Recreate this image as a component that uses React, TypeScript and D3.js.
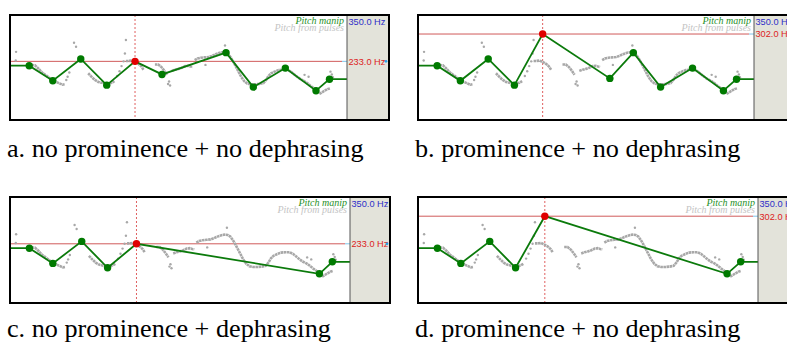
import React from "react";
import * as d3 from "d3";

// ---- data ----
const HZ_TOP = 350;
const HZ_BOTTOM = 85;

// manipulation points (normalized time 0..1, Hz)
const TIMES_A = [0.057, 0.127, 0.21, 0.287, 0.371, 0.451, 0.641, 0.722, 0.817, 0.908, 0.948];
const HZ_A = [222, 184, 239, 173, 233, 200, 255, 168, 216, 159, 188];
const TIMES_B = [0.057, 0.126, 0.209, 0.287, 0.371, 0.571, 0.641, 0.722, 0.817, 0.909, 0.948];
const HZ_B = [222, 184, 239, 173, 302, 190, 255, 168, 216, 159, 188];
const TIMES_C = [0.057, 0.126, 0.211, 0.287, 0.372, 0.91, 0.948];
const HZ_C = [222, 184, 239, 173, 233, 158, 188];
const TIMES_D = [0.057, 0.126, 0.211, 0.287, 0.373, 0.909, 0.949];
const HZ_D = [222, 184, 239, 173, 302, 158, 188];
const FOCUS_INDEX = 4;

const CAPTIONS = [
  "a. no prominence + no dephrasing",
  "b. prominence + no dephrasing",
  "c. no prominence + dephrasing",
  "d. prominence + no dephrasing",
];

// "pitch from pulses" contour pieces [t, Hz]
const PULSE_SEGMENTS: [number, number][][] = [
  [[0.064, 224], [0.074, 223], [0.084, 215], [0.095, 205], [0.108, 197], [0.12, 189], [0.132, 183], [0.145, 178], [0.156, 174], [0.162, 175]],
  [[0.232, 203], [0.242, 194], [0.252, 186], [0.262, 181], [0.272, 179], [0.282, 177], [0.292, 177], [0.302, 179], [0.31, 183]],
  [[0.344, 234], [0.352, 234], [0.362, 235], [0.372, 231], [0.382, 226], [0.39, 220], [0.396, 212]],
  [[0.43, 225], [0.44, 225], [0.45, 218], [0.459, 208], [0.466, 199]],
  [[0.48, 209], [0.49, 212], [0.5, 214], [0.51, 217], [0.52, 221], [0.528, 222], [0.536, 220], [0.542, 219]],
  [[0.548, 236], [0.556, 240], [0.566, 242], [0.578, 243], [0.59, 244], [0.6, 247], [0.61, 251], [0.62, 254], [0.63, 256], [0.64, 255], [0.648, 251], [0.655, 243], [0.662, 233], [0.67, 220], [0.678, 207], [0.686, 194], [0.695, 183], [0.704, 177], [0.715, 175], [0.727, 175], [0.74, 176], [0.752, 178], [0.76, 186], [0.767, 196], [0.775, 203], [0.785, 207], [0.797, 211], [0.81, 212], [0.822, 212], [0.832, 208], [0.842, 201], [0.852, 194], [0.862, 188], [0.872, 184], [0.882, 178], [0.892, 171], [0.902, 165], [0.91, 160]],
  [[0.918, 151], [0.926, 155], [0.934, 159], [0.942, 163], [0.95, 165]],
];
const PULSE_DOTS: [number, number][] = [
  [0.018, 257], [0.017, 235], [0.167, 186], [0.171, 194], [0.176, 205],
  [0.19, 280], [0.196, 270], [0.318, 196], [0.325, 208], [0.331, 221],
  [0.337, 233], [0.341, 253], [0.344, 287], [0.469, 176], [0.472, 182],
  [0.475, 172], [0.58, 224], [0.638, 273], [0.874, 199], [0.886, 194],
  [0.951, 207], [0.955, 200], [0.958, 193],
];

// ---- layout ----
const PANELS = [
  { times: TIMES_A, hz: HZ_A, caption: CAPTIONS[0], x0: 10, y0: 15, xp: 347, x1: 389, y1: 120, capX: 7, capY: 157 },
  { times: TIMES_B, hz: HZ_B, caption: CAPTIONS[1], x0: 418, y0: 15, xp: 754, x1: 800, y1: 120, capX: 415, capY: 157 },
  { times: TIMES_C, hz: HZ_C, caption: CAPTIONS[2], x0: 10, y0: 197, xp: 350, x1: 390, y1: 303, capX: 7, capY: 337 },
  { times: TIMES_D, hz: HZ_D, caption: CAPTIONS[3], x0: 418, y0: 197, xp: 758, x1: 800, y1: 303, capX: 415, capY: 337 },
];

const SERIF = "Liberation Serif";
const SANS = "Liberation Sans";

function Panel({ p }: { p: (typeof PANELS)[number] }) {
  const x = d3.scaleLinear().domain([0, 1]).range([p.x0, p.xp]);
  const y = d3.scaleLinear().domain([HZ_BOTTOM, HZ_TOP]).range([p.y1, p.y0]);
  const pts: [number, number][] = p.times.map((t, i) => [t, p.hz[i]]);
  const full: [number, number][] = [[0, p.hz[0]], ...pts, [1, p.hz[p.hz.length - 1]]];
  const line = d3.line<[number, number]>().x((d) => x(d[0])).y((d) => y(d[1]));
  const refHz = p.hz[FOCUS_INDEX];
  const yRef = y(refHz);
  const xFocus = x(p.times[FOCUS_INDEX]);
  const clipId = `clip-${p.x0}-${p.y0}`;
  return (
    <g>
      <defs>
        <clipPath id={clipId}>
          <rect x={p.x0} y={p.y0} width={p.xp - p.x0} height={p.y1 - p.y0} />
        </clipPath>
      </defs>
      <rect x={p.x0} y={p.y0} width={p.xp - p.x0} height={p.y1 - p.y0} fill="#ffffff" />
      <rect x={p.xp} y={p.y0} width={p.x1 - p.xp} height={p.y1 - p.y0} fill="#e3e3da" />
      <g clipPath={`url(#${clipId})`}>
        <line x1={p.x0} x2={p.xp - 5} y1={yRef} y2={yRef} stroke="#d05a5a" strokeWidth={1} />
        <line x1={p.xp - 5} x2={p.xp} y1={yRef} y2={yRef} stroke="#7fc6ea" strokeWidth={1} />
        <line x1={xFocus} x2={xFocus} y1={p.y0} y2={p.y1} stroke="#e06060" strokeWidth={1} strokeDasharray="2 2" />
        {PULSE_SEGMENTS.map((seg, i) => (
          <path key={i} d={line(seg) || ""} fill="none" stroke="#a8a8a8" strokeWidth={2.6} strokeDasharray="2.6 0.5" />
        ))}
        {PULSE_DOTS.map((d, i) => (
          <circle key={i} cx={x(d[0])} cy={y(d[1])} r={1.2} fill="#a8a8a8" />
        ))}
        <path d={line(full) || ""} fill="none" stroke="#0b7a0b" strokeWidth={1.8} />
        {pts.map((d, i) => (
          <circle key={i} cx={x(d[0])} cy={y(d[1])} r={3.7} fill={i === FOCUS_INDEX ? "#e00000" : "#007a00"} />
        ))}
        <text x={p.xp - 3} y={p.y0 + 9} textAnchor="end" fontFamily={SERIF} fontStyle="italic" fontSize={10} fill="#1f8f1f">
          Pitch manip
        </text>
        <text x={p.xp - 3} y={p.y0 + 15.5} textAnchor="end" fontFamily={SERIF} fontStyle="italic" fontSize={10} fill="#c4c4c4">
          Pitch from pulses
        </text>
      </g>
      <line x1={p.xp} x2={p.xp} y1={p.y0} y2={p.y1} stroke="#555" strokeWidth={1} />
      <text x={p.xp + 1.5} y={p.y0 + 9.5} fontFamily={SANS} fontSize={9.2} fill="#2e2ec8">
        {HZ_TOP.toFixed(1)} Hz
      </text>
      <text x={p.xp + 1.5} y={yRef + 3.3} fontFamily={SANS} fontSize={9.2} fill="#dd2222">
        {refHz.toFixed(1)} Hz
      </text>
      <circle cx={p.x1 - 3} cy={yRef} r={1.4} fill="#2aa3e8" />
      <rect x={p.x0} y={p.y0} width={p.x1 - p.x0} height={p.y1 - p.y0} fill="none" stroke="#000" strokeWidth={2} />
      <text x={p.capX} y={p.capY} fontFamily={SERIF} fontSize={26.2} fill="#000">
        {p.caption}
      </text>
    </g>
  );
}

export default function App() {
  return (
    <svg
      width={787}
      height={343}
      viewBox="0 0 787 343"
      style={{ position: "absolute", left: 0, top: 0, display: "block", background: "#fff" }}
    >
      <rect x={0} y={0} width={787} height={343} fill="#fff" />
      {PANELS.map((p, i) => (
        <Panel key={i} p={p} />
      ))}
    </svg>
  );
}
